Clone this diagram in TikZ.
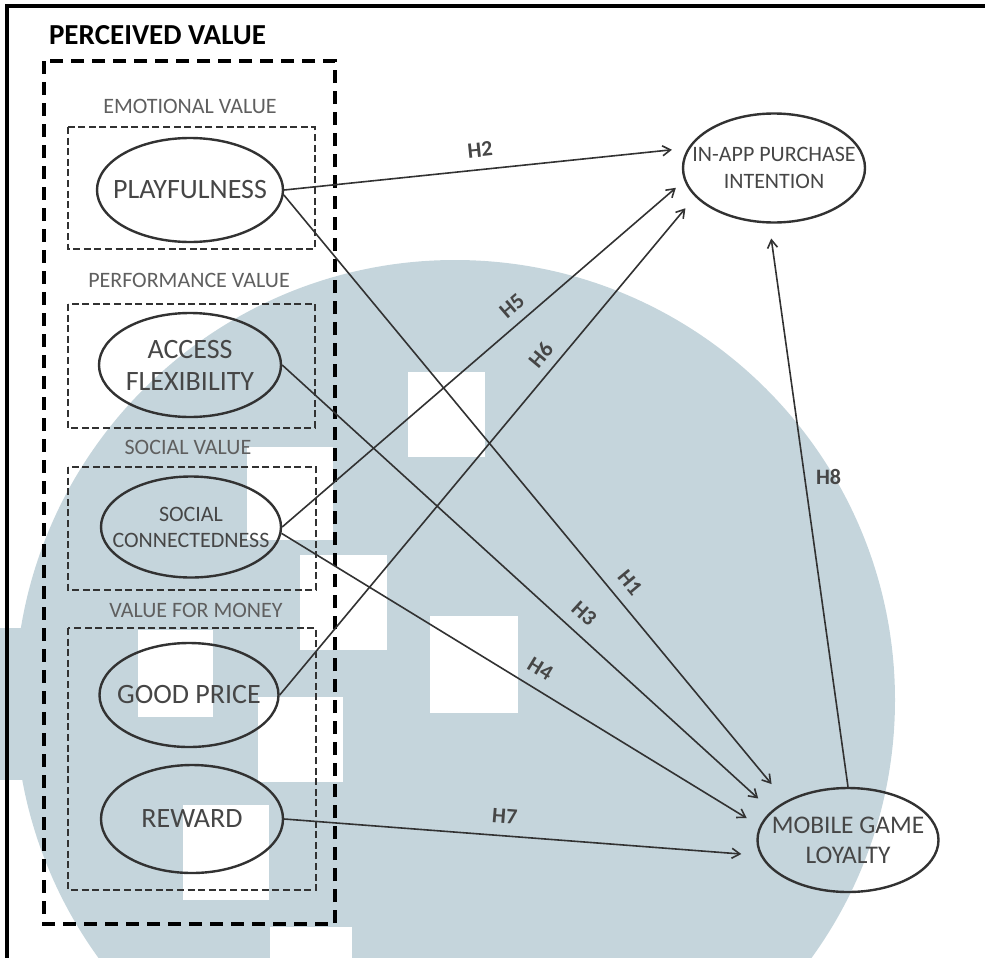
\documentclass[tikz,border=0pt]{standalone}
\usepackage{fontspec}
\setmainfont{Carlito}
\usetikzlibrary{positioning,shapes.geometric,arrows.meta}

\definecolor{wmark}{RGB}{197,213,220}
\definecolor{inkgray}{RGB}{70,70,70}
\definecolor{capgray}{RGB}{95,95,95}
\definecolor{linegray}{RGB}{50,50,50}

\tikzset{
  construct/.style={ellipse, draw=linegray, line width=1.2pt, minimum width=91pt, minimum height=52pt, inner sep=0pt},
  ctext/.style={font=\fontsize{14}{16}\selectfont, text=inkgray, align=center},
  valuebox/.style={draw=linegray, line width=1.1pt, dash pattern=on 3.5pt off 1.8pt},
  valuetitle/.style={font=\fontsize{11}{12}\selectfont, text=capgray},
  hyp/.style={draw=linegray, line width=0.8pt, -{Straight Barb[length=4pt,width=5pt]}},
  hyplabel/.style={font=\bfseries\fontsize{11}{12}\selectfont, text=inkgray}
}

\begin{document}
\begin{tikzpicture}[x=0.5pt, y=-0.5pt]
\useasboundingbox (0,0) rectangle (985,958);

% watermark behind everything
\begin{scope}
\clip (0,0) rectangle (985,958);
\fill[wmark] (455,700) circle[radius=440];
\fill[wmark] (0,628) rectangle (60,780);
\foreach \xa/\ya/\xb/\yb in {408/372/485/457, 430/616/518/713, 247/447/333/540, 300/555/387/650,
    138/630/213/717, 258/697/343/782, 183/805/269/900, 270/927/352/958} {
  \fill[white] (\xa,\ya) rectangle (\xb,\yb);
}
\end{scope}

% frame
\draw[line width=1.6pt] (7,958) -- (7,6) -- (985,6);

% perceived value group
\node[font=\bfseries\fontsize{14.5}{16}\selectfont, anchor=west] (pv) at (42,35) {PERCEIVED VALUE};
\draw[line width=1.6pt, dash pattern=on 6.5pt off 4pt] (44,61) rectangle (335,924);

\node[valuetitle] (emo) at (190,106) {EMOTIONAL VALUE};
\draw[valuebox] (68,127) rectangle (315,249);
\node[valuetitle] (perf) at (189,280) {PERFORMANCE VALUE};
\draw[valuebox] (68,304) rectangle (315,428);
\node[valuetitle] (soc) at (188,447) {SOCIAL VALUE};
\draw[valuebox] (68,467) rectangle (316,590);
\node[valuetitle] (money) at (196,610) {VALUE FOR MONEY};
\draw[valuebox] (68,628) rectangle (316,890);

% constructs
\node[construct, minimum width=93pt, label={[ctext]center:PLAYFULNESS}] (play) at (190,190) {};
\node[construct, label={[ctext]center:ACCESS\\FLEXIBILITY}] (access) at (190,365) {};
\node[construct, minimum width=90pt, minimum height=50.5pt,
      label={[ctext, font=\fontsize{11}{13}\selectfont]center:SOCIAL\\CONNECTEDNESS}] (social) at (191,527) {};
\node[construct, minimum width=89.5pt, label={[ctext]center:GOOD PRICE}] (price) at (189,695) {};
\node[construct, minimum height=54pt, label={[ctext]center:REWARD}] (reward) at (192,819) {};

\node[construct, minimum height=54.5pt,
      label={[ctext, font=\fontsize{11}{13.5}\selectfont]center:IN-APP PURCHASE\\INTENTION}] (iapi) at (774,168) {};
\node[construct, minimum width=90.5pt,
      label={[ctext, font=\fontsize{12.7}{15}\selectfont]center:MOBILE GAME\\LOYALTY}] (mgl) at (848,840) {};

% hypotheses
\draw[hyp, shorten >=8pt] (play.east) -- (iapi.167) node[hyplabel, sloped, above=2.5pt, pos=0.49] (h2) {H2};
\draw[hyp, shorten >=5.5pt] (social.east) -- (iapi.188) node[hyplabel, sloped, above=1.5pt, pos=0.6] (h5) {H5};
\draw[hyp, shorten >=7.5pt] (price.east) -- (iapi.200) node[hyplabel, sloped, above=1pt, pos=0.66] (h6) {H6};

\foreach \src/\ang/\gap/\lab/\p in {play.357/148/11/H1/0.66, access.east/159/9/H3/0.59,
    social.356/171/7.5/H4/0.52, reward.east/190/9.5/H7/0.46} {
  \draw[hyp, shorten >=\gap pt] (\src) -- (mgl.\ang) node[hyplabel, sloped, above=2.5pt, pos=\p] (\lab) {\lab};
}

\draw[hyp, shorten >=7.5pt] (mgl.north) -- (iapi.265) node[hyplabel, right=2pt, pos=0.55] (h8) {H8};
\end{tikzpicture}
\end{document}
